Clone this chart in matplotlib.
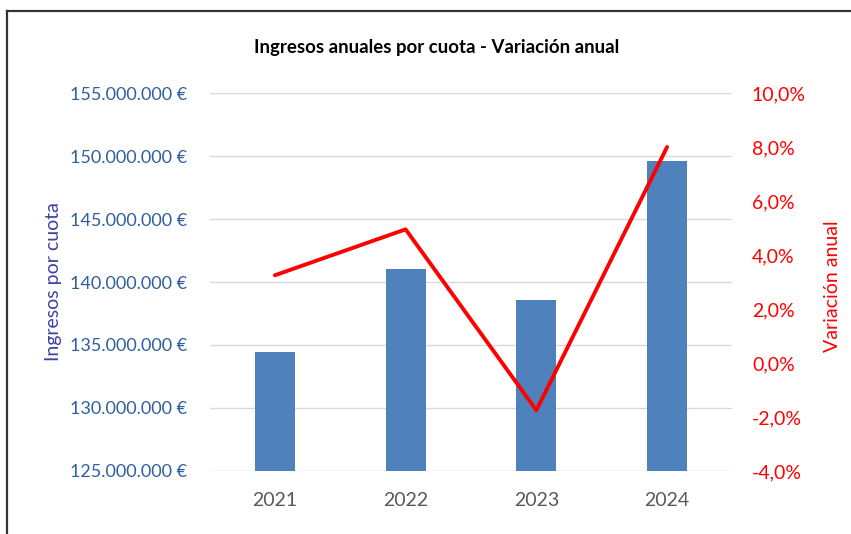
import matplotlib
matplotlib.use("Agg")
import matplotlib.pyplot as plt
from matplotlib.ticker import FuncFormatter
from matplotlib.lines import Line2D

years = ["2021", "2022", "2023", "2024"]
ingresos = [134_450_000, 141_000_000, 138_570_000, 149_600_000]
variacion = [3.25, 4.95, -1.75, 8.0]

left_ticks = [125e6, 130e6, 135e6, 140e6, 145e6, 150e6, 155e6]
right_ticks = [-4, -2, 0, 2, 4, 6, 8, 10]

plt.rcParams['font.family'] = ['Lato', 'DejaVu Sans']

fig = plt.figure(figsize=(8.51, 5.34), dpi=100)
ax = fig.add_axes([0.2462, 0.118, 0.6145, 0.7078])
ax2 = ax.twinx()

x = range(len(years))
ax.bar(x, ingresos, width=0.305, color="#4F81BD", zorder=2)
ax.set_ylim(125e6, 155e6)
ax.set_yticks(left_ticks)
ax.set_xlim(-0.5, 3.5)
ax.set_xticks(list(x))
ax.set_xticklabels(years)
ax.yaxis.set_major_formatter(FuncFormatter(lambda v, p: f"{int(v):,}".replace(",", ".") + " €"))
ax.grid(axis="y", color="#D9D9D9", lw=1, zorder=0)
ax.set_axisbelow(True)
for s in ax.spines.values():
    s.set_visible(False)
for s in ax2.spines.values():
    s.set_visible(False)
ax.tick_params(axis="y", length=0, pad=16, labelsize=13, labelcolor="#2F5F9F")
ax.tick_params(axis="x", length=0, pad=15, labelsize=14, labelcolor="#595959")
ax.set_ylabel("Ingresos por cuota", fontsize=14, color="#4040A0")
ax.yaxis.set_label_coords(-0.283, 0.5)

ax2.plot(list(x), variacion, color="#FF0000", lw=2.8, zorder=3, solid_capstyle="round")
ax2.set_ylim(-4, 10)
ax2.set_yticks(right_ticks)
ax2.yaxis.set_major_formatter(FuncFormatter(lambda v, p: f"{v:.1f}%".replace(".", ",")))
ax2.tick_params(axis="y", length=0, pad=14, labelsize=14, labelcolor="#FF0000")
ax2.set_ylabel("Variación anual", fontsize=14, color="#FF0000")
ax2.yaxis.set_label_coords(1.176, 0.49)

fig.text(0.513, 1 - 48/534, "Ingresos anuales por cuota - Variación anual", ha="center", va="center",
         fontsize=13.4, fontweight="bold", color="#000000")

fig.add_artist(Line2D([0.0085, 0.0085], [0, 1 - 11/534], transform=fig.transFigure, color="#333333", lw=1.6))
fig.add_artist(Line2D([0.0085, 1.0], [1 - 11/534, 1 - 11/534], transform=fig.transFigure, color="#333333", lw=1.6))

fig.savefig("out.png", dpi=100)
